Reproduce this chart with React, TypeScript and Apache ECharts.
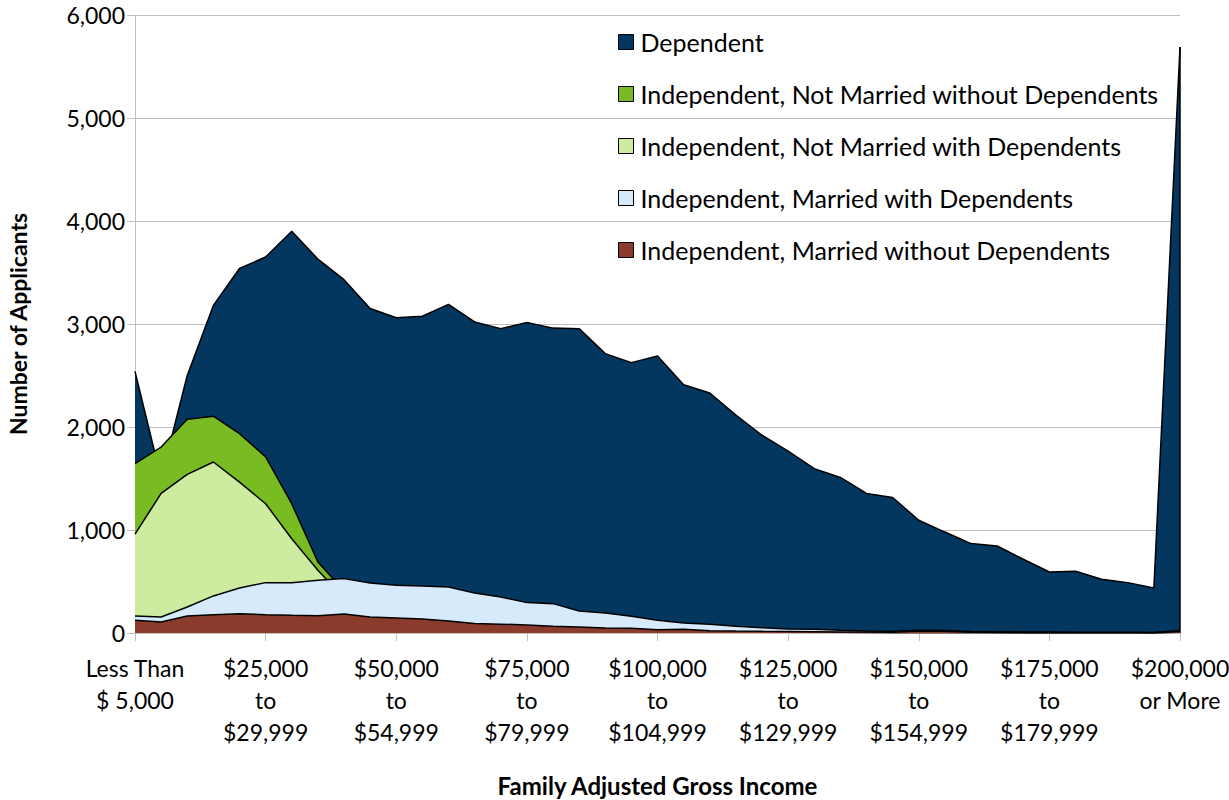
import React, { useEffect, useRef } from "react";
import * as echarts from "echarts";

const categories: string[] = [
  "Less Than\n$ 5,000",
  "$5,000\nto\n$9,999",
  "$10,000\nto\n$14,999",
  "$15,000\nto\n$19,999",
  "$20,000\nto\n$24,999",
  "$25,000\nto\n$29,999",
  "$30,000\nto\n$34,999",
  "$35,000\nto\n$39,999",
  "$40,000\nto\n$44,999",
  "$45,000\nto\n$49,999",
  "$50,000\nto\n$54,999",
  "$55,000\nto\n$59,999",
  "$60,000\nto\n$64,999",
  "$65,000\nto\n$69,999",
  "$70,000\nto\n$74,999",
  "$75,000\nto\n$79,999",
  "$80,000\nto\n$84,999",
  "$85,000\nto\n$89,999",
  "$90,000\nto\n$94,999",
  "$95,000\nto\n$99,999",
  "$100,000\nto\n$104,999",
  "$105,000\nto\n$109,999",
  "$110,000\nto\n$114,999",
  "$115,000\nto\n$119,999",
  "$120,000\nto\n$124,999",
  "$125,000\nto\n$129,999",
  "$130,000\nto\n$134,999",
  "$135,000\nto\n$139,999",
  "$140,000\nto\n$144,999",
  "$145,000\nto\n$149,999",
  "$150,000\nto\n$154,999",
  "$155,000\nto\n$159,999",
  "$160,000\nto\n$164,999",
  "$165,000\nto\n$169,999",
  "$170,000\nto\n$174,999",
  "$175,000\nto\n$179,999",
  "$180,000\nto\n$184,999",
  "$185,000\nto\n$189,999",
  "$190,000\nto\n$194,999",
  "$195,000\nto\n$199,999",
  "$200,000\nor More",
];

const dependent: number[] = [
  2540, 1500, 2500, 3180, 3540, 3650, 3900, 3630, 3430, 3150,
  3060, 3075, 3190, 3020, 2955, 3015, 2960, 2955, 2712, 2625,
  2690, 2410, 2330, 2115, 1920, 1765, 1595, 1510, 1355, 1315,
  1095, 980, 868, 845, 716, 592, 600, 521, 489, 437,
  5690,
];

const notMarriedWithoutDeps: number[] = [
  1645, 1805, 2075, 2105, 1935, 1710, 1255, 690, 410, 200,
  150, 120, 100, 80, 70, 60, 50, 45, 40, 35,
  30, 25, 20, 18, 15, 12, 10, 8, 6, 5,
  5, 4, 4, 3, 3, 2, 2, 2, 2, 2,
  10,
];

const notMarriedWithDeps: number[] = [
  960, 1355, 1540, 1660, 1465, 1255, 915, 610, 340, 180,
  130, 100, 85, 70, 60, 50, 45, 40, 35, 30,
  26, 22, 18, 15, 13, 11, 9, 8, 7, 6,
  5, 5, 4, 4, 3, 3, 3, 2, 2, 2,
  8,
];

const marriedWithDeps: number[] = [
  165, 155, 252, 360, 437, 489, 489, 512, 528, 485,
  463, 456, 447, 388, 350, 295, 285, 214, 194, 162,
  123, 97, 84, 65, 52, 39, 36, 26, 19, 16,
  26, 24, 14, 12, 10, 9, 8, 8, 7, 6,
  25,
];

const marriedWithoutDeps: number[] = [
  123, 107, 165, 178, 188, 178, 172, 168, 185, 155,
  146, 136, 116, 92, 86, 78, 65, 58, 48, 46,
  32, 36, 23, 19, 16, 14, 12, 10, 9, 8,
  20, 18, 8, 7, 6, 5, 5, 4, 4, 3,
  15,
];

const seriesNames: string[] = [
  "Dependent",
  "Independent, Not Married without Dependents",
  "Independent, Not Married with Dependents",
  "Independent, Married with Dependents",
  "Independent, Married without Dependents",
];

const seriesColors: string[] = ["#03375f", "#78bb22", "#cdeca0", "#d7eafb", "#8b3b2b"];

const seriesData: number[][] = [
  dependent,
  notMarriedWithoutDeps,
  notMarriedWithDeps,
  marriedWithDeps,
  marriedWithoutDeps,
];

const FONT = "Lato, 'Open Sans', sans-serif";

export default function App() {
  const ref = useRef<HTMLDivElement>(null);

  useEffect(() => {
    if (!ref.current) return;
    const chart = echarts.init(ref.current, null, { renderer: "svg" });
    const lastIdx = categories.length - 1;
    const series = seriesNames.map((name, i) => {
      const s: any = {
        name,
        type: "line",
        z: 2 + i,
        data: seriesData[i],
        symbol: "none",
        showSymbol: false,
        color: seriesColors[i],
        itemStyle: { color: seriesColors[i] },
        lineStyle: { color: "#000", width: 1.5 },
        areaStyle: { color: seriesColors[i], opacity: 1 },
      };
      if (i === 0) {
        s.markLine = {
          silent: true,
          symbol: "none",
          label: { show: false },
          lineStyle: { color: "#000", width: 1.5, type: "solid" },
          data: [
            [
              { coord: [categories[lastIdx], 0] },
              { coord: [categories[lastIdx], dependent[lastIdx]] },
            ],
          ],
        };
      }
      return s;
    });

    chart.setOption({
      animation: false,
      backgroundColor: "#fff",
      textStyle: { fontFamily: FONT },
      grid: {
        left: 135,
        right: 49,
        top: 15,
        bottom: 167,
        containLabel: false,
        outerBoundsMode: "none",
      },
      legend: {
        orient: "vertical",
        left: 618,
        top: 29,
        padding: 0,
        itemWidth: 15,
        itemHeight: 15,
        itemGap: 26,
        icon: "rect",
        data: seriesNames,
        itemStyle: { borderColor: "#000", borderWidth: 1 },
        textStyle: { fontSize: 25, color: "#000", fontFamily: FONT, lineHeight: 26, padding: [0, 0, 0, 2] },
      },
      xAxis: {
        type: "category",
        data: categories,
        boundaryGap: false,
        axisLine: { lineStyle: { color: "#bfbfbf", width: 1 } },
        axisTick: { interval: 4, length: 8, lineStyle: { color: "#bfbfbf" } },
        axisLabel: {
          interval: 4,
          fontSize: 23,
          lineHeight: 32,
          color: "#000",
          fontFamily: FONT,
          margin: 19,
        },
        splitLine: { show: false },
        name: "Family Adjusted Gross Income",
        nameLocation: "middle",
        nameGap: 140,
        nameTextStyle: { fontSize: 24, fontWeight: "bold", color: "#000", fontFamily: FONT },
      },
      yAxis: {
        type: "value",
        min: 0,
        max: 6000,
        interval: 1000,
        axisLine: { show: true, lineStyle: { color: "#bfbfbf", width: 1 } },
        axisTick: { show: true, length: 8, lineStyle: { color: "#bfbfbf" } },
        splitLine: { show: true, lineStyle: { color: "#bfbfbf", width: 1 } },
        axisLabel: {
          fontSize: 23,
          color: "#000",
          fontFamily: FONT,
          margin: 10,
          formatter: (v: number) => v.toLocaleString("en-US"),
        },
        name: "Number of Applicants",
        nameLocation: "middle",
        nameGap: 106,
        nameTextStyle: { fontSize: 23, fontWeight: "bold", color: "#000", fontFamily: FONT },
      },
      series,
    });
    return () => chart.dispose();
  }, []);

  return (
    <div
      ref={ref}
      style={{ position: "fixed", left: 0, top: 0, width: 1229, height: 800, background: "#fff" }}
    />
  );
}
